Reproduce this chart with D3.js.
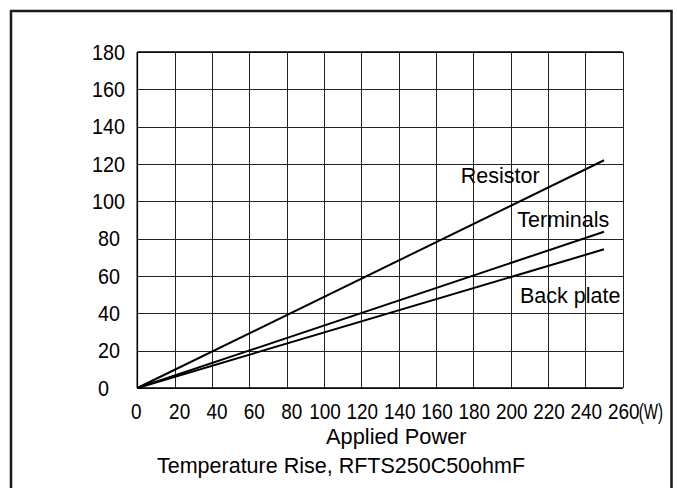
<!DOCTYPE html>
<html>
<head>
<meta charset="utf-8">
<script src="https://cdn.jsdelivr.net/npm/d3@7"></script>
<style>
  html, body { margin: 0; padding: 0; background: #fff; }
  svg { display: block; }
  text { font-family: "Liberation Sans", Arial, sans-serif; fill: #000; }
</style>
</head>
<body>
<svg id="chart" width="677" height="488"></svg>
<script>
// ---- data ----
const xTicks = [0, 20, 40, 60, 80, 100, 120, 140, 160, 180, 200, 220, 240, 260];
const xTickLabels = ["0", "20", "40", "60", "80", "100", "120", "140", "160", "180", "200", "220", "240", "260"];
const xUnit = "(W)";
const yTicks = [0, 20, 40, 60, 80, 100, 120, 140, 160, 180];
const yTickLabels = ["0", "20", "40", "60", "80", "100", "120", "140", "160", "180"];
const power = [0, 250];
const resistor = [0, 122];
const terminals = [0, 83.7];
const backPlate = [0, 74.3];
const seriesNames = ["Resistor", "Terminals", "Back plate"];
const xTitle = "Applied Power";
const chartTitle = "Temperature Rise, RFTS250C50ohmF";

(function () {
// ---- layout ----
const svg = d3.select("#chart");
const pLeft = 137.3, pRight = 622.7, pTop = 52, pBottom = 388;
const x = d3.scaleLinear().domain([0, 260]).range([pLeft, pRight]);
const y = d3.scaleLinear().domain([0, 180]).range([pBottom, pTop]);

svg.append("rect").attr("width", 677).attr("height", 488).attr("fill", "#fff");

// outer frame
svg.append("rect")
  .attr("x", 11).attr("y", 11).attr("width", 660.5).attr("height", 490)
  .attr("fill", "none").attr("stroke", "#1a1a1a").attr("stroke-width", 2.5);

// grid via axes
const gx = svg.append("g").attr("transform", `translate(0,${pBottom})`)
  .call(d3.axisBottom(x).tickValues(xTicks).tickSize(-(pBottom - pTop)).tickFormat(""));
const gy = svg.append("g").attr("transform", `translate(${pLeft},0)`)
  .call(d3.axisLeft(y).tickValues(yTicks).tickSize(-(pRight - pLeft)).tickFormat(""));
[gx, gy].forEach(g => {
  g.select(".domain").remove();
  g.selectAll(".tick line").attr("stroke", "#222").attr("stroke-width", 1).attr("shape-rendering", "crispEdges");
});

// axis lines & top border
svg.append("line").attr("x1", pLeft).attr("x2", pRight).attr("y1", pBottom).attr("y2", pBottom)
  .attr("stroke", "#000").attr("stroke-width", 1.6);
svg.append("line").attr("x1", pLeft).attr("x2", pLeft).attr("y1", pTop).attr("y2", pBottom)
  .attr("stroke", "#000").attr("stroke-width", 1.6);
svg.append("line").attr("x1", pLeft).attr("x2", pRight).attr("y1", pTop).attr("y2", pTop)
  .attr("stroke", "#000").attr("stroke-width", 1.4);

// tick labels
const fs = 21.5;
const xShift = { 1: -1, 2: 5, 3: 1 };
svg.append("g").selectAll("text").data(xTicks).join("text")
  .attr("font-size", fs)
  .attr("text-anchor", "middle")
  .attr("transform", (d, i) => `translate(${x(d) + xShift[xTickLabels[i].length]},418.5) scale(0.88,1)`)
  .text((d, i) => xTickLabels[i]);
svg.append("text")
  .attr("font-size", fs)
  .attr("transform", `translate(${x(260) + 16},418.5) scale(0.7,1)`)
  .text(xUnit);

svg.append("g").selectAll("text").data(yTicks).join("text")
  .attr("font-size", fs)
  .attr("text-anchor", "start")
  .attr("transform", (d, i) => {
    const px = yTickLabels[i].length === 3 ? 92 : 98;
    return `translate(${px},${y(d) + 7.6}) scale(0.92,1)`;
  })
  .text((d, i) => yTickLabels[i]);

// series lines
const line = d3.line().x(d => x(d[0])).y(d => y(d[1]));
[resistor, terminals, backPlate].forEach(vals => {
  svg.append("path")
    .datum(power.map((p, i) => [p, vals[i]]))
    .attr("d", line)
    .attr("fill", "none").attr("stroke", "#000").attr("stroke-width", 2);
});

// series labels
const labelPos = [[460.7, 183], [517.3, 227.3], [520, 303]];
svg.append("g").selectAll("text").data(seriesNames).join("text")
  .attr("font-size", fs)
  .attr("x", (d, i) => labelPos[i][0])
  .attr("y", (d, i) => labelPos[i][1])
  .text(d => d);

// titles
svg.append("text").attr("font-size", 21.8).attr("x", 326).attr("y", 444).text(xTitle);
svg.append("text").attr("font-size", fs).attr("x", 157).attr("y", 472.5).text(chartTitle);
})();
</script>
</body>
</html>
